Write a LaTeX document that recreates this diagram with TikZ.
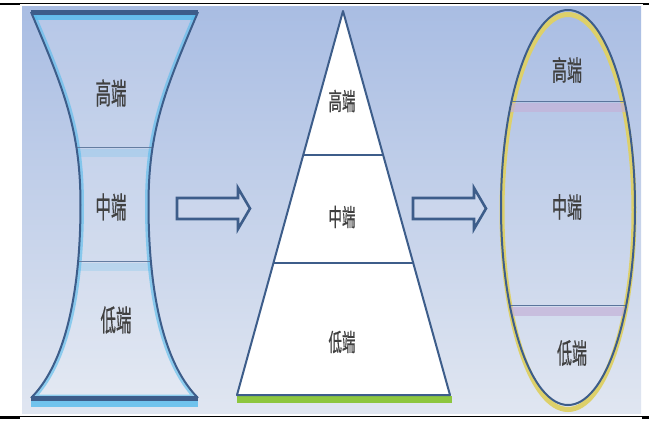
\documentclass[tikz,border=0pt]{standalone}
\usepackage{fontspec}
\newfontfamily\cjk[FakeBold=0.8]{Noto Sans CJK SC}
\usetikzlibrary{calc}
\definecolor{bgtop}{HTML}{A9BDE3}
\definecolor{bgbot}{HTML}{E0E6F1}
\definecolor{dkblue}{HTML}{3D5D8A}
\definecolor{glow}{HTML}{55BBEC}
\definecolor{ylw}{HTML}{DDD06A}
\definecolor{grn}{HTML}{8DC63F}
\definecolor{lilac}{HTML}{C4B2D8}
\definecolor{txt}{HTML}{404040}
\tikzset{
  lbl/.style={text=txt,inner sep=0pt,font=\cjk},
  blockarrow/.style={draw=dkblue,line width=2.6pt,line join=miter,fill=white,fill opacity=0.12},
  rule/.style={draw=black,line width=0.9pt}
}
\newcommand{\hgpath}{(31,12) -- (198,12) .. controls (165,90) and (148.5,130) .. (148.5,205) .. controls (148.5,280) and (160,360) .. (198,398) -- (31,398) .. controls (69,360) and (80.5,280) .. (80.5,205) .. controls (80.5,130) and (64,90) .. (31,12) -- cycle}
\newcommand{\hglbl}[1]{\scalebox{1}[1.9]{\fontsize{15.5}{15.5}\selectfont #1}}
\newcommand{\trlbl}[1]{\scalebox{1}[1.8]{\fontsize{13.5}{13.5}\selectfont #1}}
\newcommand{\ellbl}[1]{\scalebox{1}[1.85]{\fontsize{15}{15}\selectfont #1}}
\begin{document}
\begin{tikzpicture}[x=1pt,y=-1pt]
\useasboundingbox (0,0) rectangle (649,421);
\fill[white] (0,0) rectangle (649,421);
% panel
\shade[top color=bgtop,bottom color=bgbot] (22,6) rectangle (641,413);
% rules
\draw[rule] (0,3.5) -- (649,3.5);
\draw[rule] (0,416.5) -- (649,416.5);
\fill[black] (0,2.5) rectangle (20,5);
\fill[black] (0,416) rectangle (20,418.5);
\fill[black] (643,2.5) rectangle (649,5);
\fill[black] (642,416) rectangle (649,418.5);

% ---------- hourglass ----------
\fill[white,opacity=0.15] \hgpath;
\begin{scope}
  \clip \hgpath;
  \draw[glow,line width=7pt,opacity=0.6] \hgpath;
  \fill[glow,opacity=0.2] (20,149) rectangle (210,157);
  \fill[glow,opacity=0.2] (20,263) rectangle (210,271);
  \draw[dkblue!80,line width=1pt] (20,147.5) -- (210,147.5);
  \draw[dkblue!80,line width=1pt] (20,261.5) -- (210,261.5);
  \fill[glow,opacity=0.8] (20,15) rectangle (210,20);
\end{scope}
\draw[dkblue,line width=2pt] (198,12) .. controls (165,90) and (148.5,130) .. (148.5,205) .. controls (148.5,280) and (160,360) .. (198,398);
\draw[dkblue,line width=2pt] (31,398) .. controls (69,360) and (80.5,280) .. (80.5,205) .. controls (80.5,130) and (64,90) .. (31,12);
\fill[glow,opacity=0.8] (31,400) rectangle (198,407);
\draw[dkblue,line width=5pt] (31,12.5) -- (198,12.5);
\draw[dkblue,line width=5pt] (31,398) -- (198,398);
\node[lbl] (h1) at (111,93) {\hglbl{高端}};
\node[lbl] (h2) at (111,207) {\hglbl{中端}};
\node[lbl] (h3) at (116,320) {\hglbl{低端}};

% ---------- arrows ----------
\draw[blockarrow] (177,198) -- (238,198) -- (238,188) -- (250,208.5) -- (238,229) -- (238,219) -- (177,219) -- cycle;
\draw[blockarrow] (413,198) -- (474,198) -- (474,188) -- (486,208.5) -- (474,229) -- (474,219) -- (413,219) -- cycle;

% ---------- triangle ----------
\fill[grn] (237,396) rectangle (452,403);
\coordinate (ta) at (343,11);
\coordinate (tl) at (237,395);
\coordinate (tr) at (450,395);
\fill[white] (ta) -- (tr) -- (tl) -- cycle;
\begin{scope}
  \clip (ta) -- (tr) -- (tl) -- cycle;
  \draw[dkblue,line width=1.6pt] (230,155) -- (460,155);
  \draw[dkblue,line width=1.6pt] (230,263) -- (460,263);
\end{scope}
\draw[dkblue,line width=2pt,line join=round] (ta) -- (tr) -- (tl) -- cycle;
\node[lbl] (t1) at (342,101) {\trlbl{高端}};
\node[lbl] (t2) at (342,217) {\trlbl{中端}};
\node[lbl] (t3) at (342,342) {\trlbl{低端}};

% ---------- ellipse ----------
\draw[ylw,line width=5pt] (568,212) ellipse [x radius=66, y radius=197.5];
\begin{scope}
  \clip (568,207.5) ellipse [x radius=66, y radius=197.5];
  \fill[lilac,opacity=0.7] (495,103) rectangle (640,112);
  \fill[lilac,opacity=0.7] (495,307) rectangle (640,316);
  \draw[dkblue!85,line width=1.4pt] (495,101.5) -- (640,101.5);
  \draw[dkblue!85,line width=1.4pt] (495,305.5) -- (640,305.5);
\end{scope}
\draw[dkblue,line width=2pt] (568,207.5) ellipse [x radius=67, y radius=197.5];
\node[lbl] (e1) at (567,70) {\ellbl{高端}};
\node[lbl] (e2) at (567,207) {\ellbl{中端}};
\node[lbl] (e3) at (572,353) {\ellbl{低端}};
\end{tikzpicture}
\end{document}
